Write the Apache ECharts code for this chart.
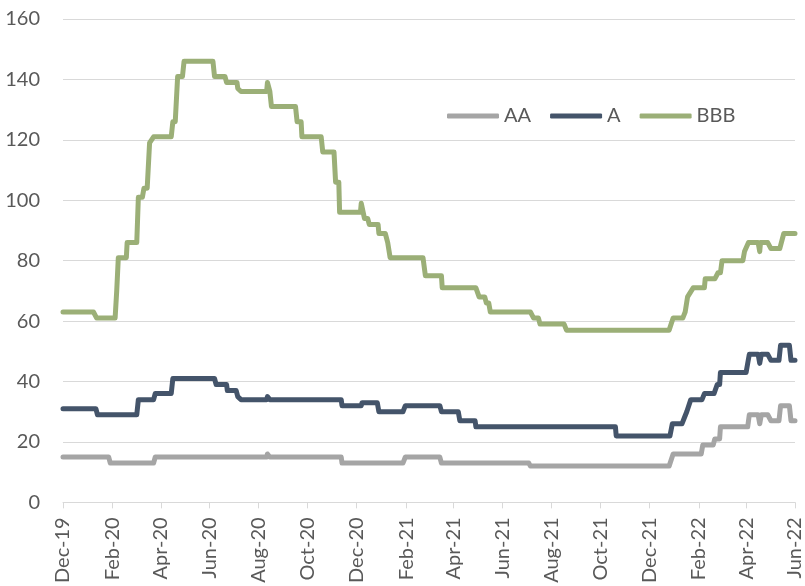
<!DOCTYPE html>
<html>
<head>
<meta charset="utf-8">
<script src="https://cdn.jsdelivr.net/npm/echarts@6/dist/echarts.min.js"></script>
<style>
  html, body { margin: 0; padding: 0; background: #ffffff; }
  #chart { width: 805px; height: 586px; }
</style>
</head>
<body>
<div id="chart"></div>
<script>
// Spread series by rating bucket: [date, value] points of each step change
const AA = [
  ['2019-12-01',15],['2020-01-27',15],['2020-01-29',13],['2020-03-23',13],['2020-03-25',15],
  ['2020-08-11',15],['2020-08-12',16],['2020-08-15',15],['2020-11-12',15],['2020-11-13',13],
  ['2021-01-28',13],['2021-01-31',15],['2021-03-15',15],['2021-03-17',13],['2021-07-04',13],
  ['2021-07-06',12],['2021-12-26',12],['2021-12-31',16],['2022-02-04',16],['2022-02-06',19],
  ['2022-02-19',19],['2022-02-21',21],['2022-02-27',21],['2022-02-28',25],['2022-04-03',25],
  ['2022-04-05',29],['2022-04-16',29],['2022-04-18',26],['2022-04-20',29],['2022-04-28',29],
  ['2022-05-02',27],['2022-05-12',27],['2022-05-14',32],['2022-05-25',32],['2022-05-27',27],
  ['2022-06-01',27]
];

const A = [
  ['2019-12-01',31],['2020-01-11',31],['2020-01-13',29],['2020-03-02',29],['2020-03-04',34],
  ['2020-03-23',34],['2020-03-25',36],['2020-04-14',36],['2020-04-16',41],['2020-06-07',41],
  ['2020-06-09',39],['2020-06-22',39],['2020-06-23',37],['2020-07-04',37],['2020-07-06',35],
  ['2020-07-10',34],['2020-08-11',34],['2020-08-12',35],['2020-08-15',34],['2020-11-12',34],
  ['2020-11-13',32],['2020-12-07',32],['2020-12-08',33],['2020-12-27',33],['2020-12-29',30],
  ['2021-01-28',30],['2021-01-31',32],['2021-03-15',32],['2021-03-17',30],['2021-04-07',30],
  ['2021-04-09',27],['2021-04-28',27],['2021-04-29',25],['2021-10-20',25],['2021-10-21',22],
  ['2021-12-27',22],['2021-12-30',26],['2022-01-11',26],['2022-01-14',28],['2022-01-17',30],
  ['2022-01-22',34],['2022-02-05',34],['2022-02-08',36],['2022-02-20',36],['2022-02-24',39],
  ['2022-02-27',39],['2022-02-28',43],['2022-04-01',43],['2022-04-03',46],['2022-04-05',49],
  ['2022-04-16',49],['2022-04-18',46],['2022-04-20',49],['2022-04-28',49],['2022-05-02',47],
  ['2022-05-12',47],['2022-05-14',52],['2022-05-25',52],['2022-05-27',47],['2022-06-01',47]
];

const BBB = [
  ['2019-12-01',63],['2020-01-08',63],['2020-01-12',61],['2020-02-04',61],['2020-02-06',70],
  ['2020-02-08',81],['2020-02-18',81],['2020-02-19',86],['2020-03-02',86],['2020-03-04',101],
  ['2020-03-09',101],['2020-03-11',104],['2020-03-15',104],['2020-03-18',119],['2020-03-23',121],
  ['2020-04-14',121],['2020-04-16',126],['2020-04-19',126],['2020-04-22',141],['2020-04-28',141],
  ['2020-04-30',146],['2020-06-05',146],['2020-06-07',141],['2020-06-20',141],['2020-06-22',139],
  ['2020-07-05',139],['2020-07-06',137],['2020-07-10',136],['2020-08-11',136],['2020-08-12',139],
  ['2020-08-15',136],['2020-08-17',131],['2020-09-16',131],['2020-09-18',126],['2020-09-23',126],
  ['2020-09-24',121],['2020-10-18',121],['2020-10-20',116],['2020-11-03',116],['2020-11-05',106],
  ['2020-11-09',106],['2020-11-10',96],['2020-12-06',96],['2020-12-07',99],['2020-12-11',94],
  ['2020-12-15',94],['2020-12-17',92],['2020-12-28',92],['2020-12-29',89],['2021-01-06',89],
  ['2021-01-09',86],['2021-01-12',81],['2021-02-22',81],['2021-02-25',75],['2021-03-17',75],
  ['2021-03-18',71],['2021-04-29',71],['2021-05-03',68],['2021-05-10',68],['2021-05-12',66],
  ['2021-05-15',66],['2021-05-17',63],['2021-07-06',63],['2021-07-10',61],['2021-07-16',61],
  ['2021-07-18',59],['2021-08-17',59],['2021-08-20',57],['2021-12-26',57],['2021-12-31',61],
  ['2022-01-12',61],['2022-01-15',63],['2022-01-18',68],['2022-01-25',71],['2022-02-08',71],
  ['2022-02-09',74],['2022-02-21',74],['2022-02-25',76],['2022-02-28',76],['2022-03-02',80],
  ['2022-03-28',80],['2022-03-30',83],['2022-04-04',86],['2022-04-16',86],['2022-04-18',83],
  ['2022-04-19',86],['2022-04-28',86],['2022-05-02',84],['2022-05-13',84],['2022-05-18',89],
  ['2022-06-01',89]
];

// Bimonthly x-axis ticks and their labels
const tickDates = ['2019-12-01','2020-02-01','2020-04-01','2020-06-01','2020-08-01','2020-10-01',
  '2020-12-01','2021-02-01','2021-04-01','2021-06-01','2021-08-01','2021-10-01','2021-12-01',
  '2022-02-01','2022-04-01','2022-06-01'];
const tickLabels = ['Dec-19','Feb-20','Apr-20','Jun-20','Aug-20','Oct-20','Dec-20','Feb-21',
  'Apr-21','Jun-21','Aug-21','Oct-21','Dec-21','Feb-22','Apr-22','Jun-22'];

const seriesNames = ['AA', 'A', 'BBB'];
const seriesColors = ['#A5A5A5', '#44546A', '#9BAF77'];

// Dates become whole-day numbers so the x axis is a plain linear scale
function toDay(s) {
  const [y, m, d] = s.split('-').map(Number);
  return Math.round(Date.UTC(y, m - 1, d) / 86400000);
}

const tickDays = tickDates.map(toDay);
const labelByDay = {};
tickDays.forEach((t, i) => { labelByDay[t] = tickLabels[i]; });

const FONT = 'Lato, "Open Sans", sans-serif';
const TEXT = '#595959';

const chart = echarts.init(document.getElementById('chart'), null, { renderer: 'canvas' });

const option = {
  animation: false,
  backgroundColor: '#ffffff',
  textStyle: { fontFamily: FONT },
  grid: { left: 63, right: 8, top: 19, bottom: 83, containLabel: false },
  legend: {
    data: seriesNames,
    left: 447,
    top: 106,
    padding: 0,
    icon: 'roundRect',
    itemWidth: 52,
    itemHeight: 5,
    itemGap: 19,
    textStyle: { fontFamily: FONT, fontSize: 20, color: TEXT }
  },
  xAxis: {
    type: 'value',
    min: tickDays[0],
    max: tickDays[tickDays.length - 1],
    splitLine: { show: false },
    axisLine: { show: true, onZero: false, lineStyle: { color: '#D9D9D9', width: 1 } },
    axisTick: { show: true, length: 6, lineStyle: { color: '#D9D9D9' }, customValues: tickDays },
    axisLabel: {
      customValues: tickDays,
      rotate: 90,
      margin: 15,
      fontFamily: FONT,
      fontSize: 20,
      color: TEXT,
      formatter: function (v) { return labelByDay[v] || ''; }
    }
  },
  yAxis: {
    type: 'value',
    min: 0,
    max: 160,
    interval: 20,
    axisLine: { show: false },
    axisTick: { show: false },
    splitLine: { show: true, lineStyle: { color: '#D9D9D9', width: 1 } },
    axisLabel: { fontFamily: FONT, fontSize: 20, color: TEXT, margin: 23 }
  },
  series: [AA, A, BBB].map((pts, i) => ({
    name: seriesNames[i],
    type: 'line',
    showSymbol: false,
    symbol: 'none',
    clip: false,
    color: seriesColors[i],
    lineStyle: { width: 5, color: seriesColors[i], cap: 'round', join: 'round' },
    data: pts.map(p => [toDay(p[0]), p[1]])
  }))
};

chart.setOption(option);
</script>
</body>
</html>
